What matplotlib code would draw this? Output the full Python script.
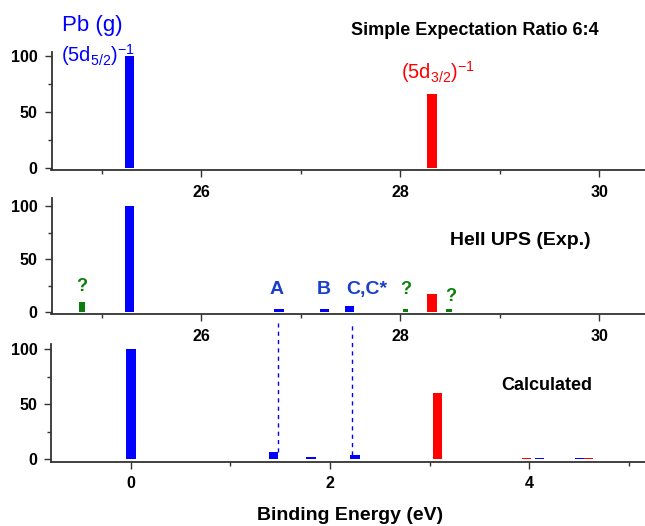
import matplotlib
matplotlib.use('Agg')
import matplotlib.pyplot as plt
import numpy as np

# relative intensities
top_pos = [25.28, 28.32]
top_val = [100, 66]
top_col = ['#0000ff', '#ff0000']

mid_pos = [24.80, 25.28, 26.78, 27.24, 27.49, 28.05, 28.32, 28.49]
mid_val = [10, 100, 3, 3, 6, 3, 17, 3]
mid_col = ['#0a7d0a', '#0000ff', '#0000ff', '#0000ff', '#0000ff', '#0a7d0a', '#ff0000', '#0a7d0a']
mid_wid = [0.055, 0.095, 0.095, 0.095, 0.095, 0.055, 0.095, 0.055]

calc_pos = [0.0, 1.43, 1.81, 2.25, 3.08, 3.97, 4.10, 4.50, 4.59]
calc_val = [100, 7, 2.5, 4, 60, 1.2, 1.2, 1.2, 1.2]
calc_col = ['#0000ff', '#0000ff', '#0000ff', '#0000ff', '#ff0000', '#ff0000', '#0000ff', '#0000ff', '#ff0000']

W, H = 645, 526
fig = plt.figure(figsize=(W / 100, H / 100), dpi=100)
plt.rcParams['font.family'] = ['Liberation Sans', 'DejaVu Sans']

def make_ax(left_px, right_px, top_px, bot_px):
    ax = fig.add_axes([left_px / W, 1 - bot_px / H, (right_px - left_px) / W, (bot_px - top_px) / H])
    ax.patch.set_visible(False)
    return ax

def style(ax):
    for s in ['top', 'right']:
        ax.spines[s].set_visible(False)
    for s in ['left', 'bottom']:
        ax.spines[s].set_color('#333333')
        ax.spines[s].set_linewidth(1.3)
    ax.set_yticks([0, 50, 100])
    ax.set_yticks([25, 75], minor=True)
    ax.tick_params(which='both', direction='out', color='#333333', width=1.0)
    ax.tick_params(which='major', length=5)
    ax.tick_params(which='minor', length=3)
    ax.tick_params(axis='x', which='major', labelsize=11.5, pad=5.5)
    ax.tick_params(axis='y', which='major', labelsize=11.5, pad=5)
    for lab in ax.get_xticklabels() + ax.get_yticklabels():
        lab.set_fontweight('bold')

# top panel: 0 at 168px, 100 at 56px
ax1 = make_ax(51.5, 659, 51.5, 170.2)
ax1.bar(top_pos, top_val, width=0.095, color=top_col)
ax1.set_xlim(24.495, 30.6)
ax1.set_ylim(-2, 104)
ax1.set_xticks([26, 28, 30])
ax1.set_xticks([25, 27, 29], minor=True)
style(ax1)
ax1.text(24.91, 127, 'Pb (g)', color='#0000ff', fontsize=16, ha='center', va='center', clip_on=False)
ax1.text(24.96, 101, r'$\mathregular{(5d_{5/2})^{-1}}$', color='#0000ff', fontsize=14.5, ha='center', va='center')
ax1.text(28.38, 86, r'$\mathregular{(5d_{3/2})^{-1}}$', color='#ff0000', fontsize=14.5, ha='center', va='center')
ax1.text(28.75, 123, 'Simple Expectation Ratio 6:4', fontsize=13, fontweight='bold', ha='center', va='center', clip_on=False)

# middle panel: 0 at 312.3px, 100 at 206px
ax2 = make_ax(51.5, 659, 197.5, 314.4)
ax2.bar(mid_pos, mid_val, width=mid_wid, color=mid_col)
ax2.set_xlim(24.495, 30.6)
ax2.set_ylim(-2, 108)
ax2.set_xticks([26, 28, 30])
ax2.set_xticks([25, 27, 29], minor=True)
style(ax2)
ax2.text(29.21, 68, 'HeII UPS (Exp.)', fontsize=14, fontweight='bold', ha='center', va='center')
q_kw = dict(color='#0a7d0a', fontsize=13, fontweight='bold', ha='center', va='center')
ax2.text(24.80, 24, '?', **q_kw)
ax2.text(28.05, 21, '?', **q_kw)
ax2.text(28.51, 15, '?', **q_kw)
p_kw = dict(color='#1a3fc8', fontsize=14, fontweight='bold', ha='center', va='center')
ax2.text(26.76, 21, 'A', **p_kw)
ax2.text(27.23, 21, 'B', **p_kw)
ax2.text(27.66, 21, 'C,C*', **p_kw)

# bottom panel: 0 at 459.3px, 100 at 349px
ax3 = make_ax(51.4, 659, 343.5, 461.5)
ax3.bar(calc_pos, calc_val, width=0.095, color=calc_col)
ax3.set_xlim(-0.797, 5.30)
ax3.set_ylim(-2, 105)
ax3.set_xticks([0, 2, 4])
ax3.set_xticks([1, 3, 5], minor=True)
style(ax3)
ax3.text(4.17, 67, 'Calculated', fontsize=13, fontweight='bold', ha='center', va='center')
ax3.plot([1.478, 1.478], [7, 124], ls=(0, (3, 3)), color='#0000ff', lw=1, clip_on=False)
ax3.plot([2.221, 2.221], [4, 124], ls=(0, (3, 3)), color='#0000ff', lw=1, clip_on=False)

fig.text(350 / W, 1 - 515 / H, 'Binding Energy (eV)', fontsize=14, fontweight='bold', ha='center', va='center')

fig.savefig('out.png', dpi=100)
